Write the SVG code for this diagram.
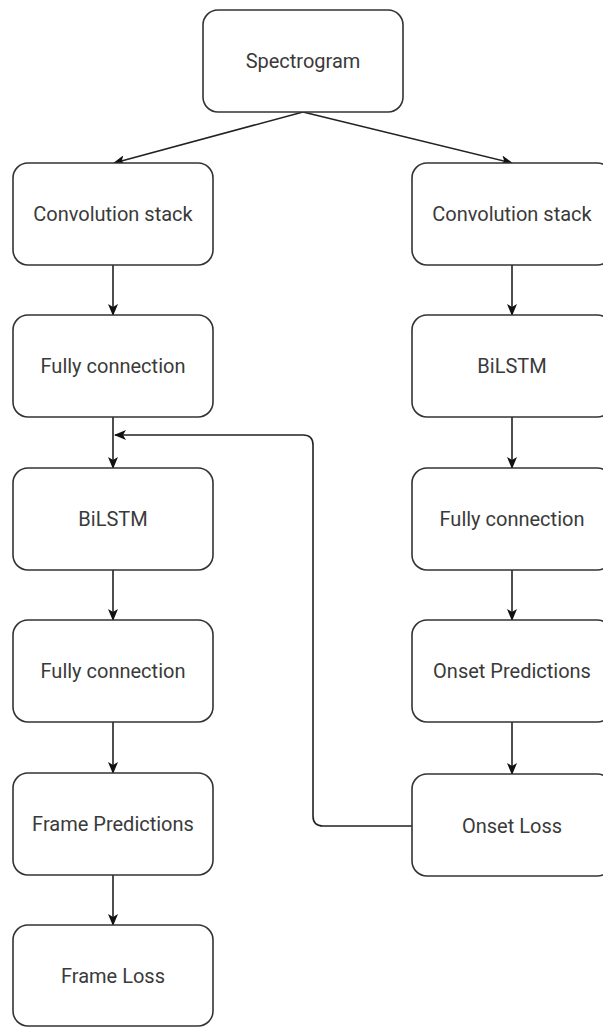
<svg xmlns="http://www.w3.org/2000/svg" width="603" height="1027" viewBox="0 0 603 1027">
<style>
.box{fill:#fff;stroke:#333;stroke-width:1.6}
.lbl{font-family:Roboto,"Liberation Sans",Arial,sans-serif;font-size:20px;fill:#3a3a3a;text-anchor:middle;dominant-baseline:central}
.edge{fill:none;stroke:#222;stroke-width:1.6}
</style>
<defs>
<marker id="arr" viewBox="0 0 12 10" refX="11" refY="5" markerWidth="12" markerHeight="10" markerUnits="userSpaceOnUse" orient="auto">
<path d="M0,0 L12,5 L0,10 L3,5 Z" fill="#111"/>
</marker>
</defs>
<rect width="603" height="1027" fill="#fff"/>
<g id="connectors">
<line class="edge" x1="303" y1="112" x2="114" y2="163" marker-end="url(#arr)"/>
<line class="edge" x1="303" y1="112" x2="512" y2="163" marker-end="url(#arr)"/>
<line class="edge" x1="113" y1="265" x2="113" y2="315" marker-end="url(#arr)"/>
<line class="edge" x1="113" y1="417" x2="113" y2="468" marker-end="url(#arr)"/>
<line class="edge" x1="113" y1="570" x2="113" y2="620" marker-end="url(#arr)"/>
<line class="edge" x1="113" y1="722" x2="113" y2="773" marker-end="url(#arr)"/>
<line class="edge" x1="113" y1="875" x2="113" y2="925" marker-end="url(#arr)"/>
<line class="edge" x1="512" y1="265" x2="512" y2="315" marker-end="url(#arr)"/>
<line class="edge" x1="512" y1="417" x2="512" y2="468" marker-end="url(#arr)"/>
<line class="edge" x1="512" y1="570" x2="512" y2="620" marker-end="url(#arr)"/>
<line class="edge" x1="512" y1="722" x2="512" y2="774" marker-end="url(#arr)"/>
<path class="edge" d="M412,826 H323 Q313,826 313,816 V445 Q313,435 303,435 H115" marker-end="url(#arr)"/>
</g>
<g id="spectrogram"><rect class="box" x="203" y="10" width="200" height="102" rx="15"/><text class="lbl" x="303" y="61">Spectrogram</text></g>
<g id="conv-left"><rect class="box" x="13" y="163" width="200" height="102" rx="15"/><text class="lbl" x="113" y="214">Convolution stack</text></g>
<g id="fc1-left"><rect class="box" x="13" y="315" width="200" height="102" rx="15"/><text class="lbl" x="113" y="366">Fully connection</text></g>
<g id="bilstm-left"><rect class="box" x="13" y="468" width="200" height="102" rx="15"/><text class="lbl" x="113" y="519">BiLSTM</text></g>
<g id="fc2-left"><rect class="box" x="13" y="620" width="200" height="102" rx="15"/><text class="lbl" x="113" y="671">Fully connection</text></g>
<g id="frame-pred"><rect class="box" x="13" y="773" width="200" height="102" rx="15"/><text class="lbl" x="113" y="824">Frame Predictions</text></g>
<g id="frame-loss"><rect class="box" x="13" y="925" width="200" height="101" rx="15"/><text class="lbl" x="113" y="976">Frame Loss</text></g>
<g id="conv-right"><rect class="box" x="412" y="163" width="200" height="102" rx="15"/><text class="lbl" x="512" y="214">Convolution stack</text></g>
<g id="bilstm-right"><rect class="box" x="412" y="315" width="200" height="102" rx="15"/><text class="lbl" x="512" y="366">BiLSTM</text></g>
<g id="fc-right"><rect class="box" x="412" y="468" width="200" height="102" rx="15"/><text class="lbl" x="512" y="519">Fully connection</text></g>
<g id="onset-pred"><rect class="box" x="412" y="620" width="200" height="102" rx="15"/><text class="lbl" x="512" y="671">Onset Predictions</text></g>
<g id="onset-loss"><rect class="box" x="412" y="774" width="200" height="102" rx="15"/><text class="lbl" x="512" y="826">Onset Loss</text></g>
</svg>
